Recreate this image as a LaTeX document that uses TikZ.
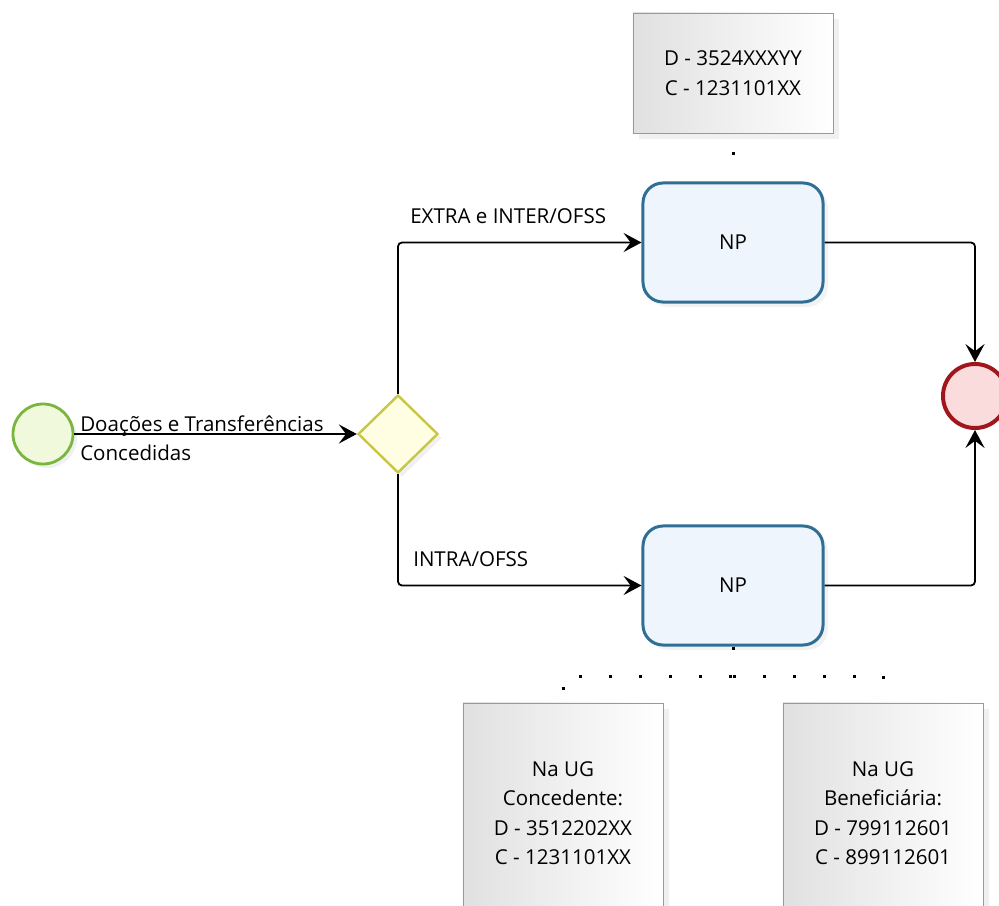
\documentclass[tikz,border=0pt]{standalone}
\usepackage{fontspec}
\setmainfont{Open Sans}
\definecolor{evgreen}{RGB}{122,182,62}
\definecolor{evgreenfill}{RGB}{240,249,220}
\definecolor{gwyellow}{RGB}{200,198,70}
\definecolor{gwfill}{RGB}{255,253,226}
\definecolor{taskblue}{RGB}{48,110,150}
\definecolor{taskfill}{RGB}{238,245,252}
\definecolor{evred}{RGB}{160,22,28}
\definecolor{evredfill}{RGB}{251,220,220}
\usetikzlibrary{arrows.meta,positioning,shapes.geometric,shadows}

\begin{document}
\begin{tikzpicture}[x=0.025cm,y=-0.025cm,
  font=\fontsize{14.6pt}{21pt}\selectfont,
  startev/.style={circle,draw=evgreen,line width=0.07cm,fill=evgreenfill,minimum size=1.5cm,
    inner sep=0pt,drop shadow={opacity=0.12,shadow xshift=0.1cm,shadow yshift=-0.1cm}},
  endev/.style={circle,draw=evred,line width=0.1cm,fill=evredfill,minimum size=1.6cm,inner sep=0pt},
  gateway/.style={diamond,draw=gwyellow,line width=0.06cm,fill=gwfill,minimum width=2cm,
    minimum height=1.95cm,inner sep=0pt,drop shadow={opacity=0.12,shadow xshift=0.1cm,shadow yshift=-0.1cm}},
  task/.style={draw=taskblue,line width=0.075cm,fill=taskfill,rounded corners=0.5cm,
    minimum width=4.5cm,minimum height=2.975cm,
    drop shadow={opacity=0.1,shadow xshift=0.12cm,shadow yshift=-0.12cm}},
  note/.style={draw=black!40,line width=0.02cm,left color=black!12,right color=white,
    minimum width=5cm,minimum height=3cm,align=center,
    drop shadow={opacity=0.12,shadow xshift=0.15cm,shadow yshift=-0.15cm}},
  flow/.style={line width=0.045cm,rounded corners=0.1cm,-{Stealth[length=0.45cm,width=0.48cm,inset=0.18cm]}},
  assoc/.style={line width=0.075cm,dash pattern=on 0.075cm off 0.675cm}
]
  \useasboundingbox (0,0) rectangle (999,906);

  % Events and gateway
  \node[startev] (start) at (43,434) {};
  \node[gateway] (gw) at (398,434) {};
  \node[endev] (end) at (975,396) {};

  % Tasks
  \node[task] (np1) at (733,242.5) {NP};
  \node[task] (np2) at (733,585.5) {NP};

  % Annotations
  \node[note] (note1) at (733,73) {D - 3524XXXYY\\C - 1231101XX};
  \node[note,minimum height=5.5cm] (note2) at (563,813) {Na UG\\Concedente:\\D - 3512202XX\\C - 1231101XX};
  \node[note,minimum height=5.5cm] (note3) at (883,813) {Na UG\\Beneficiária:\\D - 799112601\\C - 899112601};

  % Sequence flows
  \draw[flow] (start) -- (gw);
  \node[anchor=west,align=left,inner sep=0pt] (lbl) at (80,438) {Doações e Transferências\\Concedidas};
  \draw[flow] (gw.north) |- (np1.west);
  \node[anchor=base west,inner sep=0pt] (lblextra) at (410,223) {EXTRA e INTER/OFSS};
  \draw[flow] (gw.south) |- (np2.west);
  \node[anchor=base west,inner sep=0pt] (lblintra) at (413,566) {INTRA/OFSS};
  \draw[flow] (np1.east) -| (end.north);
  \draw[flow] (np2.east) -| (end.south);

  % Associations
  \coordinate (split) at (733,676);
  \draw[assoc,dash phase=0.275cm] (note1.south) -- (np1.north);
  \draw[assoc] (np2.south) -- (split) -| (note2.north);
  \draw[assoc] (split) -| (note3.north);
\end{tikzpicture}
\end{document}
